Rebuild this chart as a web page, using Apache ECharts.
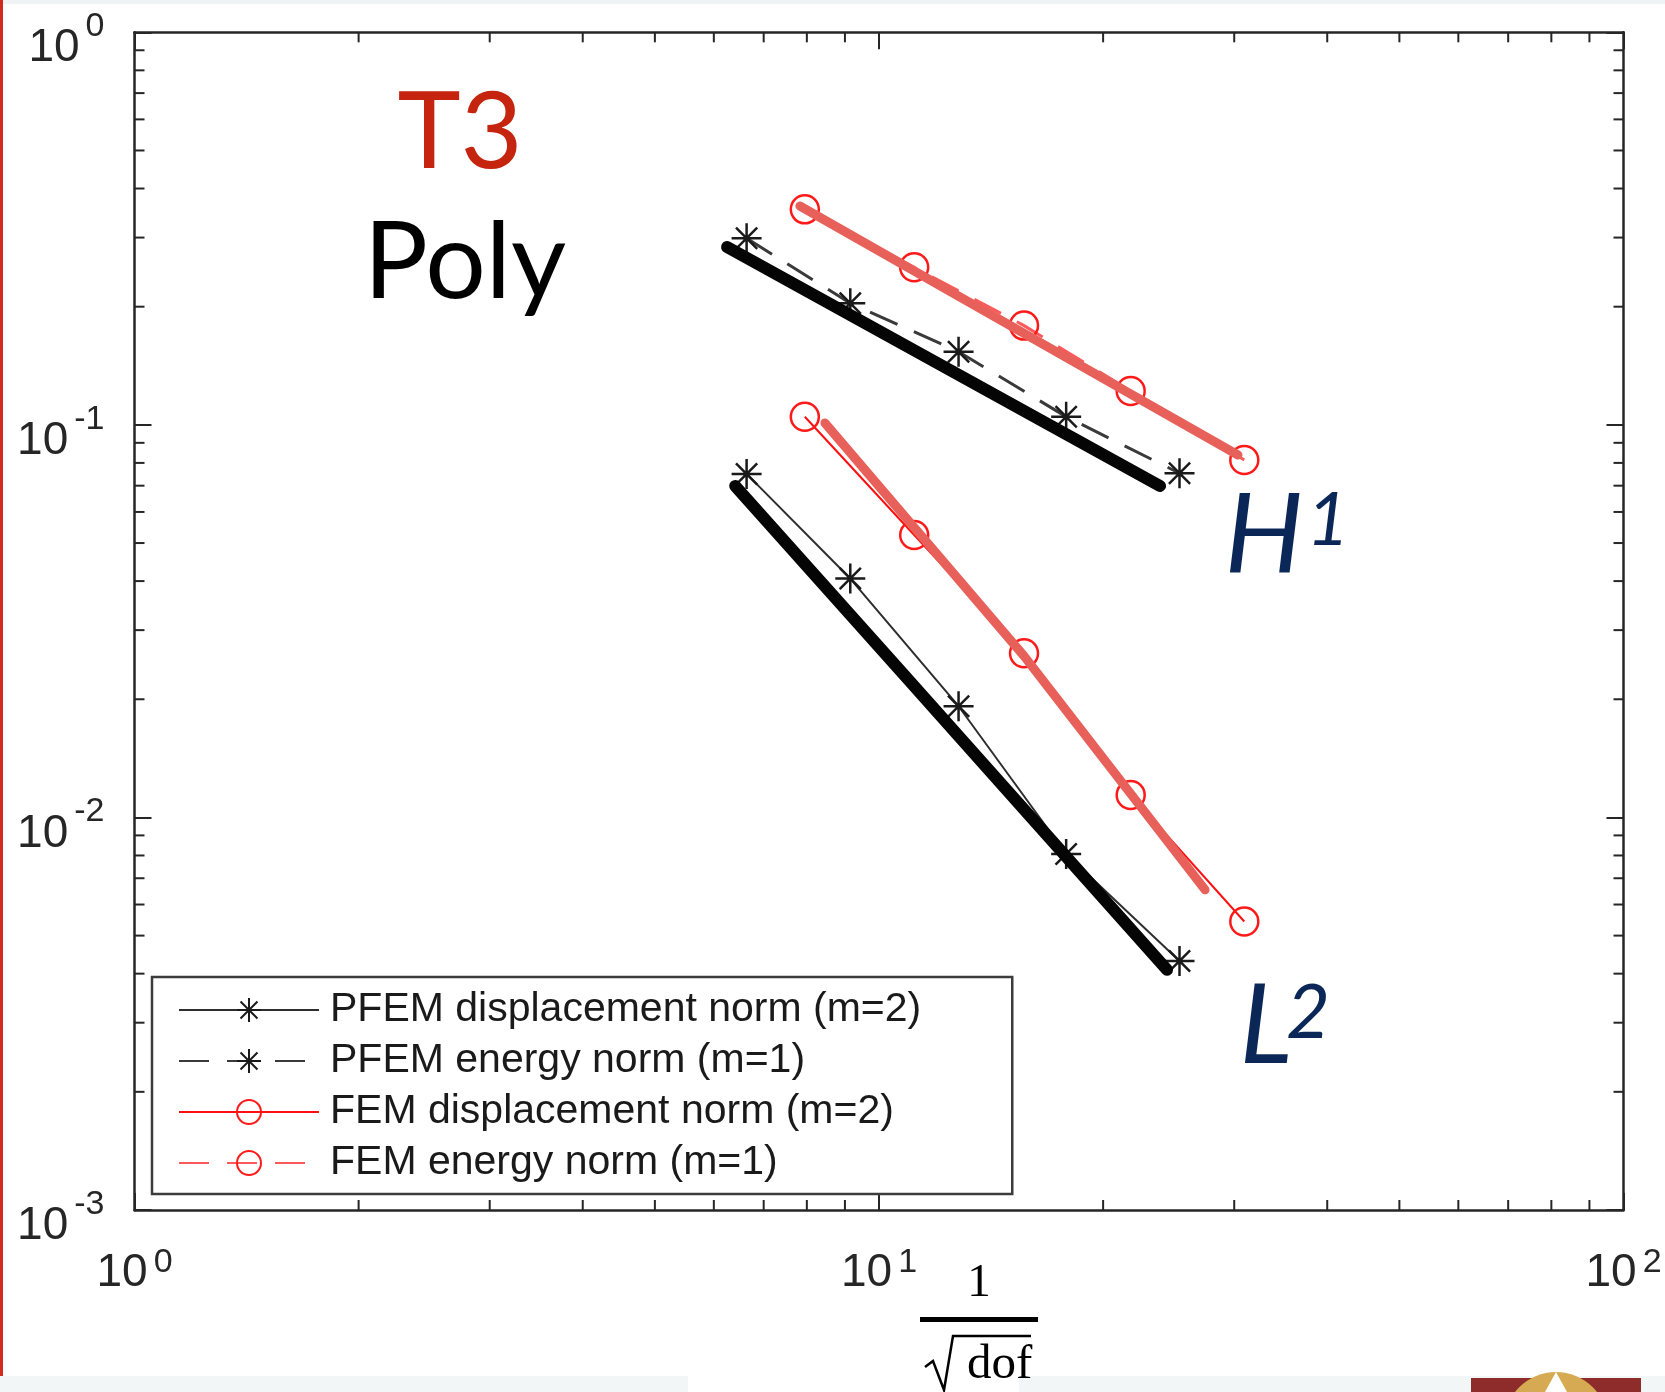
<!DOCTYPE html>
<html>
<head>
<meta charset="utf-8">
<script src="https://cdn.jsdelivr.net/npm/echarts@6/dist/echarts.min.js"></script>
<style>
html,body{margin:0;padding:0;background:#ffffff;}
#chart{width:1665px;height:1392px;}
</style>
</head>
<body>
<div id="chart"></div>
<script>
// ---------------- data ----------------
const seriesNames = ['PFEM displacement norm (m=2)', 'PFEM energy norm (m=1)', 'FEM displacement norm (m=2)', 'FEM energy norm (m=1)'];
const pfemX      = [6.64, 9.15, 12.79, 17.84, 25.33];
const femX       = [7.95, 11.15, 15.66, 21.78, 30.95];
const pfemDisp   = [0.0750, 0.0406, 0.0192, 0.00807, 0.00431];
const pfemEnergy = [0.2987, 0.2041, 0.1536, 0.1049, 0.0753];
const femDisp    = [0.1049, 0.0524, 0.0262, 0.01141, 0.00543];
const femEnergy  = [0.3540, 0.2520, 0.1790, 0.1220, 0.0814];

// hand-drawn overlay strokes (ink = black scribble, hi = salmon highlighter)
const inkH1X = [6.25, 23.85];          const inkH1Y = [0.2838, 0.0699];
const inkL2X = [6.41, 10.87, 24.37];   const inkL2Y = [0.0699, 0.02279, 0.00409];
const hiH1X  = [7.83, 30.35];          const hiH1Y  = [0.3610, 0.0838];
const hiL2X  = [8.46, 15.66, 27.41];   const hiL2Y  = [0.1011, 0.02578, 0.00654];

// axes
const xRange = [1, 100];
const yRange = [0.001, 1];
const xTickExp = ['0', '1', '2'];          // 10^0 .. 10^2
const yTickExp = ['-3', '-2', '-1', '0'];  // 10^-3 .. 10^0
const xMinorTicks = [2, 3, 4, 5, 6, 7, 8, 9, 20, 30, 40, 50, 60, 70, 80, 90];
const yMinorTicks = [0.002, 0.003, 0.004, 0.005, 0.006, 0.007, 0.008, 0.009,
                     0.02, 0.03, 0.04, 0.05, 0.06, 0.07, 0.08, 0.09,
                     0.2, 0.3, 0.4, 0.5, 0.6, 0.7, 0.8, 0.9];

// ---------------- styling ----------------
const axisColor = '#262626';
const labelFont = "'Liberation Sans', Arial, sans-serif";
const starPath = 'path://M0,-10L0,10M-10,0L10,0M-7.07,-7.07L7.07,7.07M-7.07,7.07L7.07,-7.07';
const navy = '#0a2757';

const pairs = (xs, ys) => xs.map((x, i) => [x, ys[i]]);

const chart = echarts.init(document.getElementById('chart'), null, {renderer: 'canvas'});

function axisBase(pos, isX) {
  return {
    type: 'log', logBase: 10, position: pos,
    min: isX ? xRange[0] : yRange[0], max: isX ? xRange[1] : yRange[1],
    axisLine: {show: true, onZero: false, lineStyle: {color: axisColor, width: 2.5}},
    axisTick: {show: true, inside: true, length: 17, lineStyle: {color: axisColor, width: 2}},
    splitLine: {show: false}, minorTick: {show: false}, minorSplitLine: {show: false}
  };
}

const xBottom = Object.assign(axisBase('bottom', true), {
  axisLabel: {
    show: true, margin: 36,
    formatter: v => '{b|10}{e|' + xTickExp[Math.round(Math.log10(v))] + '}',
    rich: {
      b: {fontFamily: labelFont, fontSize: 46, color: axisColor, lineHeight: 50, verticalAlign: 'bottom'},
      e: {fontFamily: labelFont, fontSize: 34, color: axisColor, lineHeight: 32, verticalAlign: 'top', padding: [0, 0, 0, 6]}
    }
  }
});
const xTop = Object.assign(axisBase('top', true), {axisLabel: {show: false}});
const yLeft = Object.assign(axisBase('left', false), {
  axisLabel: {
    show: true, margin: 30, padding: [17, 0, 0, 0],
    formatter: v => '{b|10}{e|' + yTickExp[Math.round(Math.log10(v)) + 3] + '}',
    rich: {
      b: {fontFamily: labelFont, fontSize: 46, color: axisColor, lineHeight: 62, verticalAlign: 'bottom'},
      e: {fontFamily: labelFont, fontSize: 34, color: axisColor, lineHeight: 32, verticalAlign: 'top', padding: [0, 0, 0, 6]}
    }
  }
});
const yRight = Object.assign(axisBase('right', false), {axisLabel: {show: false}});

function minorTickSeries(values, isX) {
  return {
    type: 'custom', silent: true, z: 6, clip: false,
    xAxisIndex: 0, yAxisIndex: 0,
    data: values.map(v => isX ? [v, yRange[1]] : [xRange[0], v]),
    encode: {x: 0, y: 1},
    renderItem: function (params, api) {
      const v = api.value(isX ? 0 : 1);
      const L = 10;
      const st = {stroke: axisColor, lineWidth: 2};
      if (isX) {
        const b = api.coord([v, yRange[0]]);
        const t = api.coord([v, yRange[1]]);
        return {type: 'group', children: [
          {type: 'line', shape: {x1: b[0], y1: b[1], x2: b[0], y2: b[1] - L}, style: st},
          {type: 'line', shape: {x1: t[0], y1: t[1], x2: t[0], y2: t[1] + L}, style: st}
        ]};
      } else {
        const l = api.coord([xRange[0], v]);
        const r = api.coord([xRange[1], v]);
        return {type: 'group', children: [
          {type: 'line', shape: {x1: l[0], y1: l[1], x2: l[0] + L, y2: l[1]}, style: st},
          {type: 'line', shape: {x1: r[0], y1: r[1], x2: r[0] - L, y2: r[1]}, style: st}
        ]};
      }
    }
  };
}

function overlay(name, xs, ys, color, width) {
  return {
    name: name, type: 'line', data: pairs(xs, ys), symbol: 'none', silent: true, z: 4,
    legendHoverLink: false, animation: false,
    lineStyle: {color: color, width: width, cap: 'round', join: 'round'}
  };
}

const option = {
  animation: false,
  backgroundColor: '#ffffff',
  grid: {left: 134.5, top: 32.3, width: 1489, height: 1177.7, containLabel: false, outerBoundsMode: 'none'},
  xAxis: [xBottom, xTop],
  yAxis: [yLeft, yRight],
  legend: {
    data: seriesNames, orient: 'vertical', left: 152, top: 977,
    padding: [11, 91, 9, 26], itemWidth: 140, itemHeight: 30, itemGap: 7,
    backgroundColor: '#ffffff', borderColor: '#3c3c3c', borderWidth: 2.5, borderRadius: 0,
    selectedMode: false, z: 10,
    textStyle: {fontFamily: "'Liberation Sans', Arial, sans-serif", fontSize: 41, color: '#1a1a1a', lineHeight: 44, padding: [0, 0, 0, 6]}
  },
  series: [
    {
      name: seriesNames[0], type: 'line', data: pairs(pfemX, pfemDisp),
      symbol: starPath, symbolSize: 30,
      lineStyle: {color: '#2e2e2e', width: 2},
      itemStyle: {color: '#1a1a1a', borderColor: '#1a1a1a', borderWidth: 2.5}
    },
    {
      name: seriesNames[1], type: 'line', data: pairs(pfemX, pfemEnergy),
      symbol: starPath, symbolSize: 30,
      lineStyle: {color: '#3a3a3a', width: 3, type: [30, 18]},
      itemStyle: {color: '#1a1a1a', borderColor: '#1a1a1a', borderWidth: 2.5}
    },
    {
      name: seriesNames[2], type: 'line', data: pairs(femX, femDisp),
      symbol: 'circle', symbolSize: 28,
      lineStyle: {color: '#ff1010', width: 2},
      itemStyle: {color: 'rgba(255,255,255,0)', borderColor: '#ff1a1a', borderWidth: 2.5}
    },
    {
      name: seriesNames[3], type: 'line', data: pairs(femX, femEnergy),
      symbol: 'circle', symbolSize: 28,
      lineStyle: {color: '#ff5a5a', width: 3, type: [30, 18]},
      itemStyle: {color: 'rgba(255,255,255,0)', borderColor: '#ff1a1a', borderWidth: 2.5}
    },
    overlay('ink H1', inkH1X, inkH1Y, '#050505', 12),
    overlay('ink L2', inkL2X, inkL2Y, '#050505', 12),
    overlay('highlight H1', hiH1X, hiH1Y, '#e8605a', 9),
    overlay('highlight L2', hiL2X, hiL2Y, '#e8605a', 9),
    minorTickSeries(xMinorTicks, true),
    minorTickSeries(yMinorTicks, false)
  ],
  graphic: [
    // page frame bits
    {type: 'rect', shape: {x: 0, y: 0, width: 1665, height: 4}, style: {fill: '#eef3f4'}, silent: true},
    {type: 'rect', shape: {x: 0, y: 0, width: 3, height: 1376}, style: {fill: '#d22b1d'}, silent: true},
    {type: 'rect', shape: {x: 0, y: 1376, width: 688, height: 16}, style: {fill: '#f2f6f7'}, silent: true},
    {type: 'rect', shape: {x: 1019, y: 1376, width: 646, height: 16}, style: {fill: '#f2f6f7'}, silent: true},
    {type: 'rect', shape: {x: 1471, y: 1378, width: 170, height: 14}, style: {fill: '#8e2b2b'}, silent: true},
    {type: 'circle', shape: {cx: 1556, cy: 1424, r: 52}, style: {fill: '#d6aa52'}, silent: true},
    {type: 'polygon', shape: {points: [[1545, 1392], [1556, 1372], [1567, 1392]]}, style: {fill: '#ffffff'}, silent: true},
    // annotations
    {type: 'text', silent: true, style: {text: 'T3', x: 460, y: 133, fill: '#c5240e', font: "107px Lato, 'Open Sans', sans-serif", textAlign: 'center', textVerticalAlign: 'middle'}},
    {type: 'text', silent: true, style: {text: 'Poly', x: 465, y: 263, fill: '#000000', font: "107px Lato, 'Open Sans', sans-serif", textAlign: 'center', textVerticalAlign: 'middle'}},
    {type: 'text', silent: true, style: {text: 'H', x: 1264, y: 536, fill: navy, font: "italic 111px Lato, 'Open Sans', sans-serif", textAlign: 'center', textVerticalAlign: 'middle'}},
    {type: 'text', silent: true, style: {text: '1', x: 1328, y: 521, fill: navy, font: "italic 74px Lato, 'Open Sans', sans-serif", textAlign: 'center', textVerticalAlign: 'middle'}},
    {type: 'text', silent: true, style: {text: 'L', x: 1266, y: 1027, fill: navy, font: "italic 111px Lato, 'Open Sans', sans-serif", textAlign: 'center', textVerticalAlign: 'middle'}},
    {type: 'text', silent: true, style: {text: '2', x: 1308, y: 1013, fill: navy, font: "italic 76px Lato, 'Open Sans', sans-serif", textAlign: 'center', textVerticalAlign: 'middle'}},
    // x-axis title: 1 / sqrt(dof)
    {type: 'text', silent: true, style: {text: '1', x: 979, y: 1284, fill: '#000', font: "47px 'Liberation Serif', 'DejaVu Serif', serif", textAlign: 'center', textVerticalAlign: 'middle'}},
    {type: 'rect', silent: true, shape: {x: 920, y: 1317, width: 118, height: 5}, style: {fill: '#000'}},
    {type: 'polyline', silent: true, shape: {points: [[925, 1367], [933, 1361], [944, 1390], [953, 1336], [1031, 1336]]}, style: {stroke: '#000', lineWidth: 2.5, fill: null}},
    {type: 'text', silent: true, style: {text: 'dof', x: 967, y: 1365, fill: '#000', font: "49px 'Liberation Serif', 'DejaVu Serif', serif", textAlign: 'left', textVerticalAlign: 'middle'}}
  ]
};

chart.setOption(option);
</script>
</body>
</html>
